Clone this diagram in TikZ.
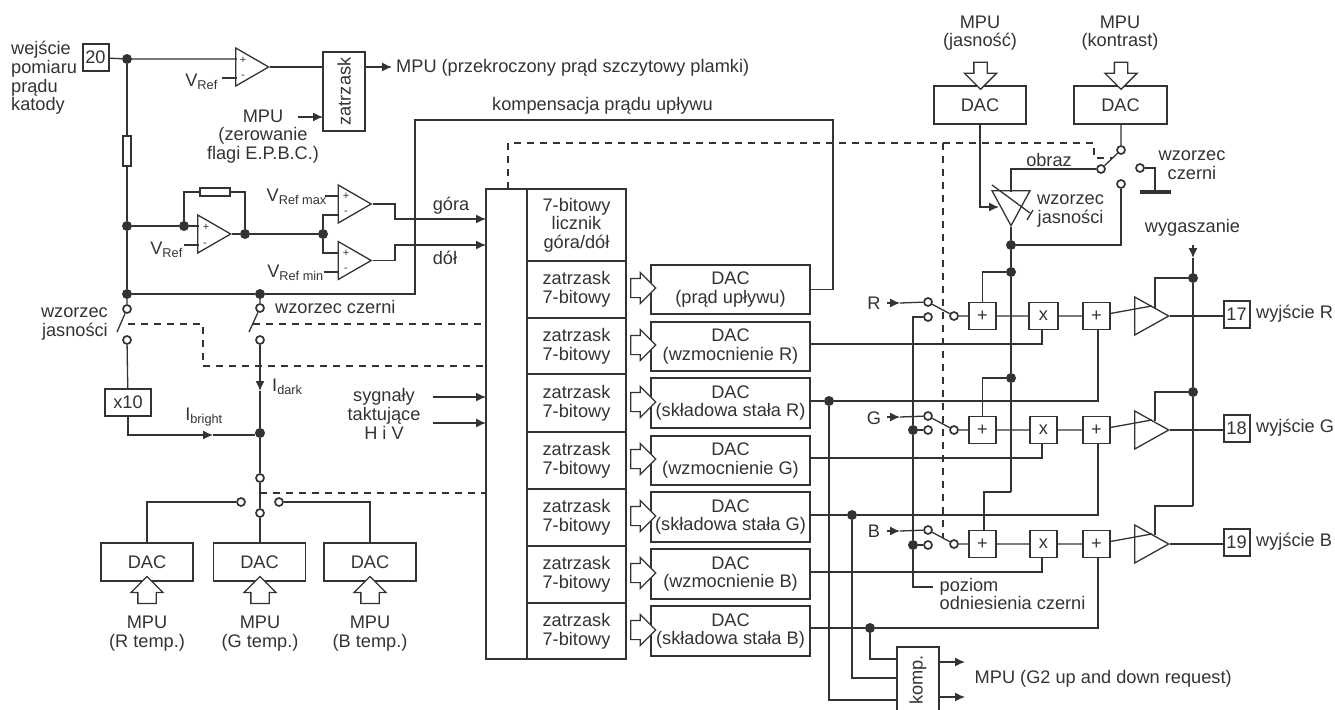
\documentclass[tikz,border=0pt]{standalone}
\usepackage{fontspec}
\setmainfont{Liberation Sans}
\usetikzlibrary{shapes.geometric, shapes.arrows, arrows.meta}

\definecolor{ink}{gray}{0.2}

\tikzset{
    wire/.style={draw=ink, line width=1.3pt},
    sig/.style={wire, -{Latex[length=10pt,width=9pt]}},
    linked/.style={draw=ink, line width=1.2pt, dash pattern=on 7pt off 6pt},
    box/.style={draw=ink, line width=1.3pt, fill=white, inner sep=0pt, align=center, text=ink},
    pin/.style={draw=ink, line width=2pt, inner sep=0pt, minimum width=26pt, minimum height=27pt, fill=white, text=ink},
    dot/.style={circle, fill=ink, inner sep=0pt, minimum size=10pt},
    hole/.style={circle, draw=ink, line width=1.7pt, fill=white, inner sep=0pt, minimum size=8pt},
    amp/.style={isosceles triangle, isosceles triangle apex angle=60, isosceles triangle stretches, draw=ink, line width=1.3pt,
        fill=white, inner sep=0pt, minimum height=33pt, minimum width=38pt, anchor=apex},
    label/.style={inner sep=0pt, align=center, text=ink},
    leftlabel/.style={label, align=left},
    sign/.style={inner sep=0pt, text=ink, font=\fontsize{11}{12}\selectfont},
    busarrow/.style={single arrow, draw=ink, line width=1.2pt, fill=white, inner xsep=0pt, inner ysep=9pt, single arrow tip angle=90,
        single arrow head extend=6pt, minimum width=30pt, minimum height=25pt},
    mpuarrow/.style={single arrow, draw=ink, line width=1.3pt, fill=white, inner xsep=0pt, inner ysep=8.5pt, single arrow tip angle=90,
        single arrow head extend=7pt, minimum width=31pt, minimum height=27pt}
}

\begin{document}
\begin{tikzpicture}[x=1pt, y=-1pt, every node/.append style={font=\fontsize{18.2}{18.7}\selectfont}]
    \useasboundingbox (0,0) rectangle (1335,709);

    % Input pin and overcurrent comparator
    \node[pin] (pin20) at (95.5,57.5) {20};
    \node[leftlabel, anchor=west] (lblinput) at (11,78) {wejście\\pomiaru\\prądu\\katody};
    \node[dot] (j1) at (127,59) {};
    \node[amp] (amp1) at (270,67) {};
    \coordinate (amp1p) at (237,59);
    \coordinate (amp1m) at (237,78);
    \coordinate (ref1) at (222,78);
    \node[sign] (amp1plus) at (243,60) {+};
    \node[sign] (amp1minus) at (243,77) {-};
    \node[label, anchor=east] (lblref1) at (218,82) {V\textsubscript{Ref}};
    \node[box, minimum width=42pt, minimum height=79pt] (latch) at (344,91.5) {\rotatebox{90}{zatrzask}};
    \coordinate (latchin) at (323,117);
    \coordinate (latchout) at (392,67);
    \coordinate (clrin) at (298,117);
    \node[label, anchor=west] (lblpeak) at (396,68) {MPU (przekroczony prąd szczytowy plamki)};
    \node[label] (lblclr) at (263,136.5) {MPU\\(zerowanie\\flagi E.P.B.C.)};
    \draw[wire] (pin20) -- (j1) -- (amp1p);
    \draw[wire] (ref1) -- (amp1m);
    \draw[wire] (amp1.apex) -- (amp1.apex -| latch.west);
    \draw[sig] (latch.east |- latchout) -- (latchout);
    \draw[sig] (clrin) -- (latchin);

    % Measuring resistor and main rail
    \node[dot] (j2) at (127,226) {};
    \node[dot] (j3) at (127,294) {};
    \node[dot] (j4) at (260,294) {};
    \node[box, minimum width=8pt, minimum height=30pt] (res1) at (127,151) {};
    \draw[wire] (j1) -- (res1) -- (j2) -- (j3) -- (j4);

    % Error amplifier with feedback
    \node[amp] (amp2) at (232,234) {};
    \node[sign] (amp2plus) at (206,227) {+};
    \node[sign] (amp2minus) at (205,245) {-};
    \node[dot] (j5) at (184,226) {};
    \node[dot] (j6) at (245,234) {};
    \node[dot] (j7) at (323,234) {};
    \node[box, minimum width=30pt, minimum height=8pt] (res2) at (215,192) {};
    \coordinate (amp2p) at (199,226);
    \coordinate (amp2m) at (199,245);
    \coordinate (ref2) at (184,245);
    \node[label, anchor=east] (lblref2) at (183,250) {V\textsubscript{Ref}};
    \draw[wire] (j2) -- (j5) -- (amp2p);
    \draw[wire] (ref2) -- (amp2m);
    \draw[wire] (j5) |- (res2) -| (j6);
    \draw[wire] (amp2.apex) -- (j6) -- (j7);

    % Window comparators
    \node[amp] (amp3) at (372.5,204) {};
    \node[amp] (amp4) at (372.5,260.5) {};
    \node[sign] (amp3plus) at (346,196) {+};
    \node[sign] (amp3minus) at (346,213) {-};
    \node[sign] (amp4plus) at (346,253) {+};
    \node[sign] (amp4minus) at (346,270) {-};
    \coordinate (amp3p) at (339,196);
    \coordinate (amp3m) at (339,215);
    \coordinate (amp4p) at (339,253);
    \coordinate (amp4m) at (339,272);
    \coordinate (refmax) at (325,196);
    \coordinate (refmin) at (324,272);
    \node[label, anchor=east] (lblrefmax) at (327,197) {V\textsubscript{Ref max}};
    \node[label, anchor=east] (lblrefmin) at (324,273) {V\textsubscript{Ref min}};
    \draw[wire] (refmax) -- (amp3p);
    \draw[wire] (refmin) -- (amp4m);
    \draw[wire] (j7) |- (amp3m);
    \draw[wire] (j7) |- (amp4p);

    % Up and down counter with latches
    \node[box, minimum width=140pt, minimum height=470pt] (bus) at (556,424) {};
    \draw[wire] (527,189) -- (527,659);
    \node[box, minimum width=99pt, minimum height=72pt] (counter) at (576.5,225) {7-bitowy\\licznik\\góra/dół};
    \node[box, minimum width=99pt, minimum height=57pt] (latch1) at (576.5,289.5) {zatrzask\\7-bitowy};
    \node[box, minimum width=99pt, minimum height=56pt] (latch2) at (576.5,346) {zatrzask\\7-bitowy};
    \node[box, minimum width=99pt, minimum height=58pt] (latch3) at (576.5,403) {zatrzask\\7-bitowy};
    \node[box, minimum width=99pt, minimum height=57pt] (latch4) at (576.5,460.5) {zatrzask\\7-bitowy};
    \node[box, minimum width=99pt, minimum height=57pt] (latch5) at (576.5,517.5) {zatrzask\\7-bitowy};
    \node[box, minimum width=99pt, minimum height=57pt] (latch6) at (576.5,574.5) {zatrzask\\7-bitowy};
    \node[box, minimum width=99pt, minimum height=56pt] (latch7) at (576.5,631) {zatrzask\\7-bitowy};

    % Converters behind the latches
    \node[box, minimum width=159pt, minimum height=49pt] (dac1) at (730.5,289.5) {DAC\\(prąd upływu)};
    \node[box, minimum width=159pt, minimum height=49pt] (dac2) at (730.5,346.5) {DAC\\(wzmocnienie R)};
    \node[box, minimum width=159pt, minimum height=50pt] (dac3) at (730.5,403) {DAC\\(składowa stała R)};
    \node[box, minimum width=159pt, minimum height=49pt] (dac4) at (730.5,460.5) {DAC\\(wzmocnienie G)};
    \node[box, minimum width=159pt, minimum height=50pt] (dac5) at (730.5,517) {DAC\\(składowa stała G)};
    \node[box, minimum width=159pt, minimum height=50pt] (dac6) at (730.5,574) {DAC\\(wzmocnienie B)};
    \node[box, minimum width=159pt, minimum height=50pt] (dac7) at (730.5,631) {DAC\\(składowa stała B)};
    \node[busarrow] (bus1) at (638.5,288) {};
    \node[busarrow] (bus2) at (638.5,345) {};
    \node[busarrow] (bus3) at (638.5,402) {};
    \node[busarrow] (bus4) at (638.5,459) {};
    \node[busarrow] (bus5) at (638.5,516) {};
    \node[busarrow] (bus6) at (638.5,573) {};
    \node[busarrow] (bus7) at (638.5,630) {};

    % Signals entering the counter
    \coordinate (upin) at (486,219);
    \coordinate (downin) at (486,245);
    \coordinate (upknee) at (395,219);
    \coordinate (downknee) at (395,245);
    \node[label] (lblup) at (451,206) {góra};
    \node[label] (lbldown) at (445,258) {dół};
    \draw[sig] (amp3.apex) -| (upknee) -- (upin);
    \draw[sig] (amp4.apex) -| (downknee) -- (downin);
    \node[label] (lblclock) at (384,414) {sygnały\\taktujące\\H i V};
    \coordinate (hin) at (486,397);
    \coordinate (vin) at (486,423);
    \coordinate (hsrc) at (433,397);
    \coordinate (vsrc) at (433,423);
    \draw[sig] (hsrc) -- (hin);
    \draw[sig] (vsrc) -- (vin);

    % Leakage compensation loop
    \coordinate (loop1) at (415,120);
    \coordinate (loop2) at (833,120);
    \node[label, anchor=west] (lblleak) at (492,106) {kompensacja prądu upływu};
    \draw[wire] (j4) -| (loop1) -- (loop2) |- (dac1.east);

    % Pattern switches
    \node[hole] (sw1a) at (127,309) {};
    \node[hole] (sw1b) at (127,340) {};
    \node[hole] (sw2a) at (260,308) {};
    \node[hole] (sw2b) at (260,340) {};
    \coordinate (arm1) at (117,332);
    \coordinate (arm2) at (249,332);
    \node[label, align=right, anchor=east] (lblbright) at (108,324) {wzorzec\\jasności};
    \node[label, anchor=west] (lbldark) at (275,307) {wzorzec czerni};
    \draw[wire] (j3) -- (sw1a) -- (arm1);
    \draw[wire] (j4) -- (sw2a) -- (arm2);

    % Current paths
    \node[box, minimum width=46pt, minimum height=27pt] (times10) at (128,402.5) {x10};
    \node[dot] (j8) at (260,433) {};
    \coordinate (darktip) at (260,391);
    \coordinate (brighttip) at (213,435);
    \coordinate (brightend) at (255,435);
    \node[label, anchor=west] (lblidark) at (272,387) {I\textsubscript{dark}};
    \node[label] (lblibright) at (204,417) {I\textsubscript{bright}};
    \draw[wire] (sw1b) -- (times10);
    \draw[sig] (sw2b) -- (darktip);
    \draw[wire] (darktip) -- (j8);
    \draw[sig] (times10.south) |- (brighttip);
    \draw[wire] (brighttip) -- (brightend);

    % Temperature selector
    \node[hole] (sel0) at (260,478) {};
    \node[hole] (selr) at (241,502) {};
    \node[hole] (selb) at (279,502) {};
    \node[hole] (selg) at (260,513) {};
    \node[box, minimum width=92pt, minimum height=38pt] (dacr) at (147,562) {DAC};
    \node[box, minimum width=92pt, minimum height=38pt] (dacg) at (259.5,562) {DAC};
    \node[box, minimum width=92pt, minimum height=38pt] (dacb) at (370,562) {DAC};
    \draw[wire] (j8) -- (sel0) -- (selg) -- (dacg.north -| selg);
    \draw[wire] (selr) -| (dacr);
    \draw[wire] (selb) -| (dacb);
    \node[mpuarrow, rotate=90] (mpur) at (147,594.5) {};
    \node[mpuarrow, rotate=90] (mpug) at (260,594.5) {};
    \node[mpuarrow, rotate=90] (mpub) at (370,594.5) {};
    \node[label] (lblr) at (147,633.5) {MPU\\(R temp.)};
    \node[label] (lblg) at (260,633.5) {MPU\\(G temp.)};
    \node[label] (lblb) at (370,633.5) {MPU\\(B temp.)};

    % Dashed control links
    \coordinate (d1) at (128,324);
    \coordinate (d2) at (203,324);
    \coordinate (d3) at (203,366);
    \coordinate (d4) at (486,366);
    \coordinate (d5) at (253,324);
    \coordinate (d6) at (486,324);
    \coordinate (d7) at (260,493);
    \coordinate (d8) at (486,493);
    \coordinate (d9) at (508,189);
    \coordinate (d10) at (508,143);
    \coordinate (d11) at (1094,143);
    \coordinate (d12) at (1094,158);
    \coordinate (d13) at (1112,158);
    \coordinate (d14) at (943,143);
    \coordinate (d15) at (943,538);
    \draw[linked] (d1) -- (d2) -- (d3) -- (d4);
    \draw[linked] (d5) -- (d6);
    \draw[linked] (d7) -- (d8);
    \draw[linked] (d9) -- (d10) -- (d11) -- (d12) -- (d13);
    \draw[linked] (d14) -- (d15);

    % Brightness and contrast converters
    \node[box, minimum width=92pt, minimum height=38pt] (dacbr) at (980,105) {DAC};
    \node[box, minimum width=93pt, minimum height=38pt] (dacco) at (1120.5,105) {DAC};
    \node[mpuarrow, inner ysep=6pt, single arrow head extend=9.5pt, rotate=-90] (mpubr) at (980.5,72.5) {};
    \node[mpuarrow, inner ysep=6pt, single arrow head extend=9.5pt, rotate=-90] (mpuco) at (1121,72.5) {};
    \node[label] (lblbr) at (980,33) {MPU\\(jasność)};
    \node[label] (lblco) at (1120,33) {MPU\\(kontrast)};

    % Contrast switch and brightness stage
    \node[hole] (ctr0) at (1121,150) {};
    \node[hole] (ctr1) at (1101,169) {};
    \node[hole] (ctr2) at (1140,168) {};
    \node[hole] (ctr3) at (1121,184) {};
    \node[label] (lblimage) at (1049,160) {obraz};
    \node[label] (lblblack) at (1192,165) {wzorzec\\czerni};
    \draw[wire] (dacco.south -| ctr0) -- (ctr0) -- (ctr1);
    \node[draw=ink, fill=ink, inner sep=0pt, minimum width=30pt, minimum height=3pt] (gnd) at (1155,192) {};
    \draw[wire] (ctr2) -| (gnd);
    \node[amp, shape border rotate=270, minimum height=35pt, minimum width=38pt] (gain) at (1011,227) {};
    \coordinate (gainin) at (999,207);
    \coordinate (gaintop) at (1011,192);
    \coordinate (slash1) at (992,185);
    \coordinate (slash2) at (1030,213);
    \coordinate (bar1) at (1033,210);
    \coordinate (bar2) at (1027,220);
    \draw[wire] (slash1) -- (slash2);
    \draw[wire] (bar1) -- (bar2);
    \draw[sig] (dacbr.south) |- (gainin);
    \draw[wire] (gaintop) |- (ctr1);
    \node[label, anchor=west] (lblgain) at (1037,211) {wzorzec\\jasności};

    % Contrast rail
    \node[dot] (j10) at (1011,245) {};
    \node[dot] (j11) at (1011,272) {};
    \node[dot] (j12) at (1011,378) {};
    \coordinate (railend) at (1011,492);
    \draw[wire] (ctr3) |- (j10);
    \draw[wire] (gain.apex) -- (j10) -- (j11) -- (j12) -- (railend);

    % Blanking rail
    \node[label] (lblblank) at (1192.5,228) {wygaszanie};
    \coordinate (blanktop) at (1193,245);
    \coordinate (blanktip) at (1193,258);
    \node[dot] (j13) at (1193,278) {};
    \node[dot] (j14) at (1193,392) {};
    \coordinate (blankend) at (1193,506);
    \draw[sig] (blanktop) -- (blanktip);
    \draw[wire] (blanktip) -- (j13) -- (j14) -- (blankend);

    % Channel R
    \coordinate (ramptap) at (1155,308);
    \draw[wire] (j13) -| (ramptap);
    \node[label] (lblcr) at (874,303) {R};
    \coordinate (rsrc) at (887,303);
    \coordinate (rtip) at (900,303);
    \node[hole] (r1) at (928,302) {};
    \node[hole] (r2) at (928,317) {};
    \node[hole] (r3) at (954,316) {};
    \node[box, minimum width=27pt, minimum height=27pt] (radd1) at (982.5,316) {+};
    \node[box, minimum width=29pt, minimum height=27pt] (rmul) at (1043.5,316) {x};
    \node[box, minimum width=27pt, minimum height=27pt] (radd2) at (1096.5,316) {+};
    \node[amp, minimum height=34pt] (ramp) at (1170,316) {};
    \node[pin] (pin17) at (1236.5,314.5) {17};
    \node[label, anchor=west] (lblout17) at (1256,314) {wyjście R};
    \draw[sig] (rsrc) -- (rtip);
    \draw[wire] (rtip) -- (r1) -- (r3) -- (radd1) -- (rmul) -- (radd2) -- (ramp.left side);
    \draw[wire] (ramp.apex) -- (pin17.west |- ramp.apex);
    \draw[wire] (j11) -| (radd1);

    % Channel G
    \coordinate (gamptap) at (1155,421);
    \draw[wire] (j14) -| (gamptap);
    \node[label] (lblcg) at (874,418) {G};
    \coordinate (gsrc) at (887,417);
    \coordinate (gtip) at (900,417);
    \node[hole] (g1) at (928,416) {};
    \node[hole] (g2) at (928,430) {};
    \node[hole] (g3) at (954,430) {};
    \node[dot] (j15) at (913,430) {};
    \node[box, minimum width=27pt, minimum height=27pt] (gadd1) at (982.5,430) {+};
    \node[box, minimum width=27pt, minimum height=27pt] (gmul) at (1043.5,430) {x};
    \node[box, minimum width=27pt, minimum height=27pt] (gadd2) at (1096.5,430) {+};
    \node[amp, minimum height=34pt] (gamp) at (1170,430) {};
    \node[pin] (pin18) at (1236.5,428) {18};
    \node[label, anchor=west] (lblout18) at (1256,428) {wyjście G};
    \draw[sig] (gsrc) -- (gtip);
    \draw[wire] (gtip) -- (g1) -- (g3) -- (gadd1) -- (gmul) -- (gadd2) -- (gamp.left side);
    \draw[wire] (gamp.apex) -- (pin18.west |- gamp.apex);
    \draw[wire] (j15) -- (g2);
    \draw[wire] (j12) -| (gadd1);

    % Channel B
    \coordinate (bamptap) at (1155,535);
    \coordinate (bkneec) at (1155,506);
    \draw[wire] (blankend) -- (bkneec) -- (bamptap);
    \node[label] (lblcb) at (874,531) {B};
    \coordinate (bsrc) at (887,531);
    \coordinate (btip) at (900,531);
    \node[hole] (b1) at (928,530) {};
    \node[hole] (b2) at (928,545) {};
    \node[hole] (b3) at (954,544) {};
    \node[dot] (j16) at (913,545) {};
    \node[box, minimum width=27pt, minimum height=27pt] (badd1) at (982.5,544) {+};
    \node[box, minimum width=27pt, minimum height=27pt] (bmul) at (1043.5,544) {x};
    \node[box, minimum width=27pt, minimum height=27pt] (badd2) at (1096.5,544) {+};
    \node[amp, minimum height=34pt] (bamp) at (1170,544) {};
    \node[pin] (pin19) at (1236.5,542) {19};
    \node[label, anchor=west] (lblout19) at (1256,542) {wyjście B};
    \draw[sig] (bsrc) -- (btip);
    \draw[wire] (btip) -- (b1) -- (b3) -- (badd1) -- (bmul) -- (badd2) -- (bamp.left side);
    \draw[wire] (bamp.apex) -- (pin19.west |- bamp.apex);
    \draw[wire] (j16) -- (b2);
    \coordinate (bkneeb) at (984,492);
    \draw[wire] (railend) -- (bkneeb) -- (badd1.north -| bkneeb);

    % Black level line
    \coordinate (blk1) at (913,317);
    \coordinate (blk2) at (913,587);
    \coordinate (blk3) at (933,587);
    \node[leftlabel, anchor=west] (lblref) at (939.5,594) {poziom\\odniesienia czerni};
    \draw[wire] (r2) -- (blk1) -- (j15) -- (j16) -- (blk2) -- (blk3);

    % Comparator for G2 request
    \node[box, minimum width=42pt, minimum height=66pt] (komp) at (918,680) {\rotatebox{90}{komp.}};
    \node[dot] (j17) at (829,401) {};
    \node[dot] (j18) at (852,515) {};
    \node[dot] (j19) at (870,628) {};
    \coordinate (kompa) at (897,659);
    \coordinate (kompb) at (897,678);
    \coordinate (kompc) at (897,700);
    \coordinate (kompup) at (965,662);
    \coordinate (kompdn) at (965,697);
    \node[label, anchor=west] (lblg2) at (974.5,679) {MPU (G2 up and down request)};
    \draw[wire] (j17) |- (kompc);
    \draw[wire] (j18) |- (kompb);
    \draw[wire] (j19) |- (kompa);
    \draw[sig] (komp.east |- kompup) -- (kompup);
    \draw[sig] (komp.east |- kompdn) -- (kompdn);

    % Converter outputs into the channels
    \coordinate (wzr) at (1042,344);
    \coordinate (wzg) at (1042,458);
    \coordinate (wzb) at (1042,572);
    \coordinate (skr) at (1098,401);
    \coordinate (skg) at (1098,515);
    \coordinate (skb) at (1098,628);
    \draw[wire] (dac2.east |- wzr) -- (wzr) -- (wzr |- rmul.south);
    \draw[wire] (dac4.east |- wzg) -- (wzg) -- (wzg |- gmul.south);
    \draw[wire] (dac6.east |- wzb) -- (wzb) -- (wzb |- bmul.south);
    \draw[wire] (dac3.east |- j17) -- (j17) -- (skr) -- (skr |- radd2.south);
    \draw[wire] (dac5.east |- j18) -- (j18) -- (skg) -- (skg |- gadd2.south);
    \draw[wire] (dac7.east |- j19) -- (j19) -- (skb) -- (skb |- badd2.south);
\end{tikzpicture}
\end{document}
